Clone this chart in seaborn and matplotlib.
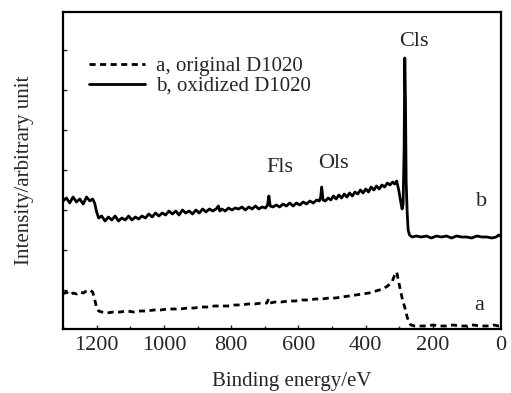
import matplotlib
matplotlib.use("Agg")
import matplotlib.pyplot as plt
import seaborn as sns
import pandas as pd
from matplotlib.ticker import MultipleLocator

sns.set_theme(style="ticks")
plt.rcParams['font.family'] = ['Liberation Serif', 'DejaVu Serif']

# curve b: oxidized D1020 (binding energy eV, intensity arb. units)
energy_b = [1300, 1290, 1280, 1270, 1260, 1250, 1240, 1230, 1220, 1212, 1206, 1200, 1194,
            1185, 1175, 1165, 1155, 1145, 1135, 1125, 1115, 1105, 1095, 1085, 1075, 1065,
            1055, 1045, 1035, 1025, 1015, 1005, 995, 985, 975, 965, 955, 945, 935, 925,
            915, 905, 895, 885, 875, 865, 855, 845, 838, 834, 828, 818, 808, 798, 788,
            778, 768, 758, 748, 738, 728, 718, 708, 698, 692, 688, 684, 676, 666, 656,
            646, 636, 626, 616, 606, 596, 586, 576, 566, 556, 546, 538, 534, 531, 527,
            520, 512, 504, 496, 488, 480, 472, 464, 456, 448, 440, 432, 424, 416, 408,
            400, 392, 384, 376, 368, 360, 352, 344, 336, 328, 320, 314, 308, 302, 296,
            292, 289, 286, 284, 282, 280, 277, 274, 270, 262, 250, 235, 220, 205, 190,
            175, 160, 145, 130, 115, 100, 85, 70, 55, 40, 25, 12, 5, 0]
intensity_b = [129, 132, 127, 133, 128, 131, 126, 133, 129, 131, 127, 118, 112,
               114, 109, 113, 110, 114, 109, 112, 110, 114, 110, 113, 111, 114,
               112, 116, 113, 117, 114, 117, 115, 119, 116, 119, 115, 120, 117, 119,
               116, 120, 117, 121, 118, 121, 119, 121, 124, 119, 121, 119, 122, 120, 122,
               121, 123, 120, 123, 121, 124, 121, 123, 122, 125, 134, 124, 123, 125, 123,
               126, 124, 127, 124, 127, 125, 128, 126, 129, 127, 130, 129, 133, 143, 130,
               129, 132, 130, 134, 131, 135, 132, 136, 133, 137, 134, 138, 136, 140, 137,
               141, 138, 143, 140, 144, 141, 145, 143, 147, 145, 148, 146, 149, 140, 128,
               121, 126, 180, 272, 230, 150, 118, 100, 95, 93, 94, 93, 94, 92, 94,
               93, 94, 92, 94, 93, 93, 92, 94, 93, 93, 92, 93, 95, 94]

# curve a: original D1020
energy_a = [1300, 1290, 1280, 1270, 1260, 1250, 1240, 1230, 1220, 1212, 1206, 1200, 1194,
            1185, 1170, 1150, 1130, 1110, 1090, 1070, 1050, 1030, 1010, 990, 970, 950,
            930, 910, 890, 870, 850, 830, 810, 790, 770, 750, 730, 710, 694, 689, 684,
            670, 650, 630, 610, 590, 570, 550, 530, 510, 490, 470, 450, 430, 410, 390,
            370, 350, 335, 322, 314, 308, 302, 297, 292, 287, 282, 277, 272, 266, 255,
            240, 220, 200, 180, 160, 140, 120, 100, 80, 60, 40, 20, 5, 0]
intensity_a = [36, 38, 35, 37, 36, 38, 37, 39, 40, 38, 31, 22, 19,
               18, 17, 18, 18, 19, 18, 19, 19, 20, 20, 21, 21, 21,
               22, 22, 23, 23, 24, 24, 24, 25, 25, 26, 26, 27, 27, 31, 27,
               28, 28, 29, 29, 30, 30, 31, 31, 32, 32, 33, 34, 35, 36, 37,
               39, 41, 44, 48, 55, 58, 48, 40, 32, 26, 20, 13, 8, 5, 4,
               4, 4, 5, 4, 4, 5, 4, 4, 5, 4, 4, 5, 4, 4]

labels = ["a, original D1020", "b, oxidized D1020"]
xticks = [1200, 1000, 800, 600, 400, 200, 0]

df_a = pd.DataFrame({"energy": energy_a, "intensity": intensity_a, "sample": labels[0]})
df_b = pd.DataFrame({"energy": energy_b, "intensity": intensity_b, "sample": labels[1]})

fig = plt.figure(figsize=(5.11, 3.93), dpi=100)
ax = fig.add_axes([63/511, 1-329/393, (501-63)/511, (329-12)/393])

sns.lineplot(data=df_a, x="energy", y="intensity", ax=ax, color="black",
             linewidth=2.0, linestyle=(0, (2.2, 1.6)), sort=False, label=labels[0])
sns.lineplot(data=df_b, x="energy", y="intensity", ax=ax, color="black",
             linewidth=2.0, sort=False, label=labels[1])

ax.set_xlim(1300, -2)
ax.set_ylim(1, 318)
ax.set_xticks(xticks)
ax.xaxis.set_minor_locator(MultipleLocator(100))
ax.set_yticks([40, 80, 120, 160, 200, 240, 280])
ax.set_yticklabels([])
ax.tick_params(axis="both", direction="in", length=3, width=1, labelsize=16, pad=5)
ax.tick_params(axis="x", which="minor", direction="in", length=2)
for s in ax.spines.values():
    s.set_linewidth(1.6)
    s.set_color("black")

ax.set_xlabel("Binding energy/eV", fontsize=15, labelpad=4)
ax.xaxis.set_label_coords(0.523, -0.135)
ax.set_ylabel("Intensity/arbitrary unit", fontsize=15, labelpad=16)

ax.text(258, 288, "Cls", fontsize=16, ha="center", va="center")
ax.text(655, 162, "Fls", fontsize=16, ha="center", va="center")
ax.text(497, 167, "Ols", fontsize=16, ha="center", va="center")
ax.text(55, 128, "b", fontsize=16, ha="center", va="center")
ax.text(62, 24, "a", fontsize=16, ha="center", va="center")

leg = ax.legend(loc="upper left", bbox_to_anchor=(0.04, 0.885), frameon=False,
                fontsize=15, handlelength=2.7, handletextpad=0.5,
                labelspacing=0.0, borderaxespad=0)

fig.savefig("out.png", dpi=100)
